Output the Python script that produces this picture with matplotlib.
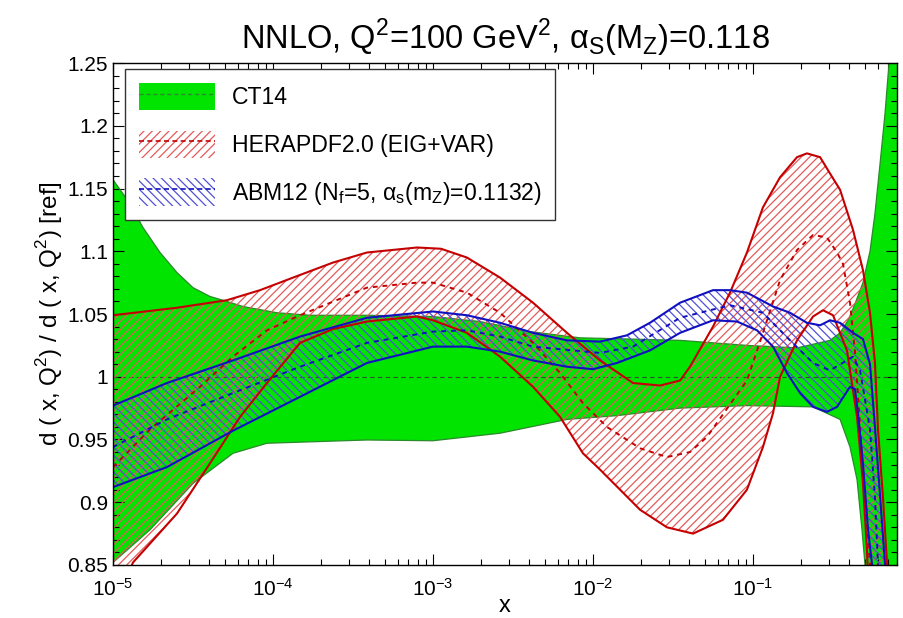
import numpy as np
import matplotlib
matplotlib.use("Agg")
import matplotlib.pyplot as plt
from matplotlib.patches import Patch
from matplotlib.lines import Line2D
from matplotlib.ticker import MultipleLocator, FuncFormatter, LogLocator

plt.rcParams['font.family'] = ['Liberation Sans', 'DejaVu Sans']
plt.rcParams['hatch.linewidth'] = 0.9

# ---------------- data (log10 x, ratio) ----------------
ct14_up_lx = [-5.000, -4.894, -4.813, -4.706, -4.600, -4.500, -4.394, -4.288, -4.188, -3.975,
              -3.769, -3.413, -3.000, -2.706, -2.394, -2.081, -1.750, -1.456, -1.038, -0.725,
              -0.519, -0.456, -0.406, -0.363, -0.313, -0.269, -0.238, -0.206, -0.175, -0.150, -0.100]
ct14_up_y = [1.157, 1.138, 1.119, 1.099, 1.083, 1.071, 1.064, 1.060, 1.056, 1.051,
             1.049, 1.049, 1.048, 1.044, 1.036, 1.031, 1.030, 1.029, 1.025, 1.023,
             1.029, 1.035, 1.045, 1.058, 1.075, 1.100, 1.130, 1.170, 1.210, 1.250, 1.350]
ct14_lo_lx = [-5.000, -4.769, -4.500, -4.250, -4.038, -3.413, -3.000, -2.581, -2.163, -1.850,
              -1.456, -1.038, -0.625, -0.456, -0.394, -0.350, -0.319, -0.300, -0.269, -0.100]
ct14_lo_y = [0.852, 0.878, 0.915, 0.939, 0.947, 0.9496, 0.949, 0.955, 0.966, 0.969,
             0.975, 0.977, 0.976, 0.966, 0.944, 0.918, 0.878, 0.850, 0.750, 0.700]
ct14_c_lx = [-5.000, -0.100]
ct14_c_y = [1.0, 1.0]

hera_up_lx = [-5.000, -4.600, -4.288, -4.081, -3.875, -3.625, -3.413, -3.100, -2.950, -2.788,
              -2.581, -2.375, -2.163, -1.956, -1.750, -1.581, -1.456, -1.394, -1.250, -1.144,
              -1.038, -0.938, -0.831, -0.725, -0.663, -0.581, -0.519, -0.456, -0.375, -0.313,
              -0.269, -0.238, -0.219, -0.188, -0.163, -0.144]
hera_up_y = [1.049, 1.055, 1.061, 1.069, 1.079, 1.091, 1.099, 1.103, 1.102, 1.095,
             1.079, 1.059, 1.035, 1.013, 0.995, 0.993, 0.997, 1.008, 1.040, 1.067,
             1.099, 1.135, 1.159, 1.175, 1.178, 1.175, 1.162, 1.149, 1.117, 1.085,
             1.051, 1.011, 0.958, 0.904, 0.852, 0.780]
hera_lo_lx = [-5.000, -4.875, -4.600, -4.394, -4.206, -4.038, -3.831, -3.625, -3.413, -3.100,
              -3.000, -2.788, -2.581, -2.375, -2.206, -2.063, -1.956, -1.706, -1.538, -1.375,
              -1.188, -1.038, -0.938, -0.875, -0.831, -0.725, -0.625, -0.563, -0.500, -0.413,
              -0.350, -0.313, -0.288, -0.269]
hera_lo_y = [0.815, 0.852, 0.891, 0.931, 0.968, 0.995, 1.027, 1.038, 1.044, 1.048,
             1.045, 1.035, 1.016, 0.992, 0.968, 0.939, 0.926, 0.894, 0.880, 0.875,
             0.886, 0.910, 0.944, 0.971, 1.000, 1.029, 1.048, 1.053, 1.049, 1.021,
             0.968, 0.915, 0.862, 0.800]
hera_c_lx = [-5.000, -4.769, -4.456, -4.250, -4.038, -3.831, -3.413, -3.100, -3.000, -2.788,
             -2.581, -2.375, -2.206, -2.063, -1.913, -1.706, -1.538, -1.394, -1.288, -1.188,
             -1.038, -0.938, -0.831, -0.725, -0.625, -0.538, -0.475, -0.438, -0.394, -0.363,
             -0.331, -0.300, -0.269, -0.250]
hera_c_y = [0.928, 0.958, 0.992, 1.016, 1.037, 1.049, 1.071, 1.075, 1.075, 1.067,
            1.051, 1.027, 1.003, 0.979, 0.960, 0.943, 0.936, 0.940, 0.952, 0.970,
            0.997, 1.035, 1.077, 1.101, 1.113, 1.111, 1.099, 1.090, 1.059, 1.020,
            0.960, 0.900, 0.850, 0.800]

abm_up_lx = [-5.000, -4.663, -4.250, -3.831, -3.413, -3.000, -2.788, -2.581, -2.375, -2.163,
             -1.956, -1.788, -1.644, -1.456, -1.250, -1.144, -1.038, -0.875, -0.769, -0.663,
             -0.581, -0.519, -0.456, -0.375, -0.313, -0.269, -0.238, -0.206, -0.175, -0.156]
abm_up_y = [0.977, 0.995, 1.013, 1.032, 1.047, 1.052, 1.049, 1.043, 1.035, 1.029,
            1.028, 1.033, 1.043, 1.059, 1.069, 1.069, 1.067, 1.056, 1.051, 1.043,
            1.041, 1.045, 1.043, 1.035, 1.030, 1.010, 0.960, 0.905, 0.850, 0.800]
abm_lo_lx = [-5.000, -4.663, -4.250, -3.831, -3.413, -3.000, -2.788, -2.581, -2.375, -2.163,
             -2.000, -1.850, -1.644, -1.456, -1.250, -1.100, -0.975, -0.875, -0.788, -0.706,
             -0.625, -0.538, -0.475, -0.394, -0.363, -0.344, -0.313, -0.281, -0.256, -0.238]
abm_lo_y = [0.912, 0.928, 0.957, 0.984, 1.011, 1.024, 1.024, 1.020, 1.013, 1.008,
            1.006, 1.011, 1.021, 1.035, 1.045, 1.044, 1.037, 1.024, 1.003, 0.987,
            0.976, 0.972, 0.976, 0.992, 0.990, 0.971, 0.931, 0.878, 0.850, 0.800]
abm_c_lx = [-5.000, -4.663, -4.250, -3.831, -3.413, -3.000, -2.788, -2.581, -2.375, -1.956,
            -1.750, -1.456, -1.144, -0.938, -0.769, -0.625, -0.519, -0.375, -0.331, -0.269,
            -0.238, -0.219, -0.200]
abm_c_y = [0.944, 0.966, 0.987, 1.008, 1.027, 1.036, 1.037, 1.032, 1.024, 1.019,
           1.024, 1.047, 1.057, 1.051, 1.029, 1.011, 1.005, 1.016, 1.005, 0.958,
           0.904, 0.850, 0.800]

x_ticks_exp = [-5, -4, -3, -2, -1]
y_ticks = [0.85, 0.9, 0.95, 1.0, 1.05, 1.1, 1.15, 1.2, 1.25]
labels = ['CT14', 'HERAPDF2.0 (EIG+VAR)',
          r'ABM12 (N$_\mathregular{f}$=5, α$_\mathregular{s}$(m$_\mathregular{Z}$)=0.1132)']

def X(lx):
    return 10.0 ** np.asarray(lx)

# ---------------- colours ----------------
GREEN = '#00e400'
GREEN_EDGE = '#2b8a2b'
RED = '#c40000'
RED_HATCH = '#e45a5a'
BLUE = '#1010c0'
BLUE_HATCH = '#5050d8'

fig = plt.figure(figsize=(9.04, 6.18), dpi=100)
ax = fig.add_axes([0.125, 0.0858, 0.8673, 0.8122])
ax.set_xscale('log')

def band_poly(ulx, uy, llx, ly):
    xs = np.concatenate([X(ulx), X(llx)[::-1]])
    ys = np.concatenate([np.asarray(uy), np.asarray(ly)[::-1]])
    return xs, ys

# CT14 band
gx, gy = band_poly(ct14_up_lx, ct14_up_y, ct14_lo_lx, ct14_lo_y)
ax.fill(gx, gy, facecolor=GREEN, edgecolor='none', zorder=1)
ax.plot(X(ct14_up_lx), ct14_up_y, color=GREEN_EDGE, lw=0.9, zorder=2)
ax.plot(X(ct14_lo_lx), ct14_lo_y, color=GREEN_EDGE, lw=0.9, zorder=2)
ax.plot(X(ct14_c_lx), ct14_c_y, color='#305030', lw=0.8, ls=(0, (4, 3)), zorder=2)

# HERAPDF band
rx, ry = band_poly(hera_up_lx, hera_up_y, hera_lo_lx, hera_lo_y)
ax.fill(rx, ry, facecolor='none', edgecolor=RED_HATCH, lw=0, hatch='////', zorder=3)

# ABM12 band
bx, by = band_poly(abm_up_lx, abm_up_y, abm_lo_lx, abm_lo_y)
ax.fill(bx, by, facecolor='none', edgecolor=BLUE_HATCH, lw=0, hatch='\\\\\\\\', zorder=4)

ax.plot(X(hera_up_lx), hera_up_y, color=RED, lw=1.5, zorder=6)
ax.plot(X(hera_lo_lx), hera_lo_y, color=RED, lw=1.5, zorder=6)
ax.plot(X(hera_c_lx), hera_c_y, color=RED, lw=1.4, ls=(0, (2.5, 2.5)), zorder=6)

ax.plot(X(abm_up_lx), abm_up_y, color=BLUE, lw=1.5, zorder=7)
ax.plot(X(abm_lo_lx), abm_lo_y, color=BLUE, lw=1.5, zorder=7)
ax.plot(X(abm_c_lx), abm_c_y, color=BLUE, lw=1.4, ls=(0, (2.5, 2.5)), zorder=7)

# axes
ax.set_xlim(1e-5, 10 ** -0.1)
ax.set_ylim(0.85, 1.25)
ax.set_yticks(y_ticks)
ax.yaxis.set_major_formatter(FuncFormatter(lambda v, p: '%g' % v))
ax.yaxis.set_minor_locator(MultipleLocator(0.01))
ax.set_xticks([10.0 ** e for e in x_ticks_exp])
ax.set_xticklabels([r'$\mathregular{10^{%d}}$' % e for e in x_ticks_exp])
ax.xaxis.set_minor_locator(LogLocator(base=10, subs=np.arange(2, 10)))
ax.tick_params(which='both', direction='in', top=True, right=True, labelsize=15, width=0.8)
ax.tick_params(which='major', length=8)
ax.tick_params(which='minor', length=4)
ax.tick_params(axis='x', pad=9)
for s in ax.spines.values():
    s.set_linewidth(1.0)
    s.set_zorder(10)

ax.set_xlabel('x', fontsize=17)
ax.xaxis.set_label_coords(0.5, -0.060)
ax.set_ylabel(r'd ( x, Q$^\mathregular{2}$) / d ( x, Q$^\mathregular{2}$) [ref]', fontsize=17.5, labelpad=2)
ax.set_title(r'NNLO, Q$^\mathregular{2}$=100 GeV$^\mathregular{2}$, α$_\mathregular{S}$(M$_\mathregular{Z}$)=0.118',
             fontsize=23.5, pad=10)

# legend
h1 = (Patch(facecolor=GREEN, edgecolor='none'),
      Line2D([], [], color=GREEN_EDGE, ls=(0, (3, 2)), lw=1.0))
h2 = (Patch(facecolor='white', edgecolor=RED_HATCH, lw=0, hatch='////'),
      Line2D([], [], color=RED, ls=(0, (3, 2)), lw=1.2))
h3 = (Patch(facecolor='white', edgecolor=BLUE_HATCH, lw=0, hatch='\\\\\\\\'),
      Line2D([], [], color=BLUE, ls=(0, (3, 2)), lw=1.2))
leg = ax.legend([h1, h2, h3], labels, loc='upper left', bbox_to_anchor=(0.0153, 0.988),
                borderaxespad=0, fontsize=16.6, handlelength=3.3, handleheight=1.45,
                labelspacing=0.88, handletextpad=0.72, borderpad=0.6,
                fancybox=False, framealpha=1, edgecolor='#333333')
leg.get_frame().set_linewidth(1.0)
leg.set_zorder(20)

fig.savefig('out.png', dpi=100)
